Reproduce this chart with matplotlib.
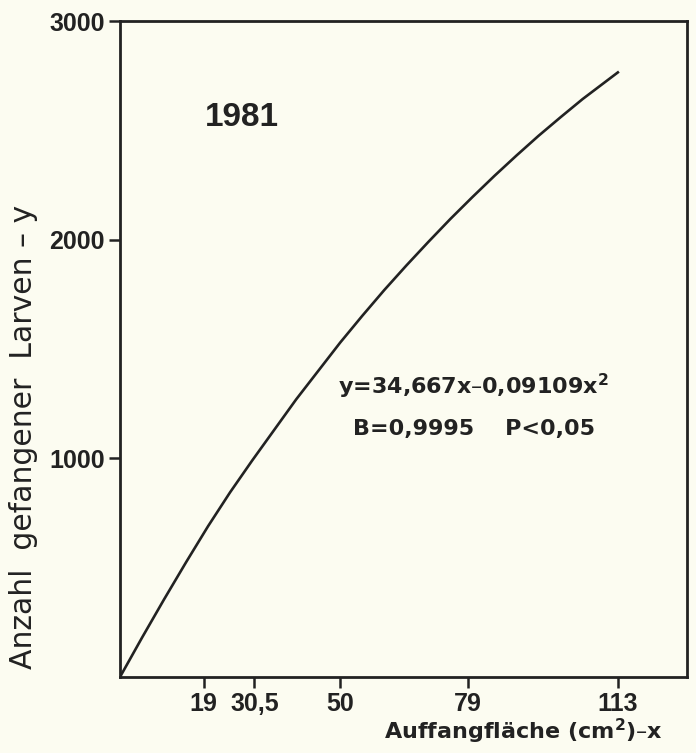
import matplotlib
matplotlib.use('Agg')
import matplotlib.pyplot as plt

# Werte
flaeche = [0, 5, 10, 15, 20, 25, 30, 35, 40, 45, 50, 55, 60, 65, 70,
           75, 80, 85, 90, 95, 100, 105, 113]
larven = [0, 180, 355, 525, 690, 845, 990, 1130, 1270, 1400, 1530, 1652,
          1770, 1882, 1990, 2095, 2195, 2292, 2385, 2475, 2560, 2643, 2765]

x_ticks = [19, 30.5, 50, 79, 113]
x_labels = ['19', '30,5', '50', '79', '113']
y_ticks = [1000, 2000, 3000]
y_labels = ['1000', '2000', '3000']

bg = '#fcfcf1'
ink = '#222222'

plt.rcParams['font.family'] = ['Liberation Sans', 'DejaVu Sans']

fig = plt.figure(figsize=(6.96, 7.53), dpi=100, facecolor=bg)
ax = fig.add_axes([0.1724, 0.1009, 0.8147, 0.8712])
ax.set_facecolor(bg)

ax.plot(flaeche, larven, color=ink, linewidth=1.9)

ax.set_xlim(0, 128.7)
ax.set_ylim(0, 3000)
ax.set_xticks(x_ticks)
ax.set_xticklabels(x_labels)
ax.set_yticks(y_ticks)
ax.set_yticklabels(y_labels)
ax.tick_params(axis='both', direction='out', length=8, width=1.8, color=ink,
               labelsize=18, labelcolor=ink, pad=3)
for lab in ax.get_xticklabels() + ax.get_yticklabels():
    lab.set_fontweight('semibold')
for s in ax.spines.values():
    s.set_linewidth(2)
    s.set_color(ink)

# Texte im Diagramm (Pixelpositionen, Ursprung unten links)
ax.text(242, 753 - 118, '1981', transform=None, fontsize=24, fontweight='bold',
        color=ink, ha='center', va='center')
ax.text(338, 753 - 386, 'y=34,667x\u20130,09109x$^\\mathbf{2}$', transform=None,
        fontsize=16, fontweight='bold', color=ink, ha='left', va='center',
        family='DejaVu Sans')
ax.text(353, 753 - 429, 'B=0,9995    P<0,05', transform=None,
        fontsize=16, fontweight='bold', color=ink, ha='left', va='center',
        family='DejaVu Sans')

fig.text(0.9526, 0.029, 'Auffangfl\u00e4che (cm$^\\mathbf{2}$)\u2013x', fontsize=16,
         fontweight='bold', color=ink, ha='right', va='center', family='DejaVu Sans')
fig.text(0.034, 0.42, 'Anzahl  gefangener  Larven \u2013 y', rotation=90,
         fontsize=21.5, color=ink, ha='center', va='center', family='DejaVu Sans')

fig.savefig('out.png', dpi=100, facecolor=bg)
